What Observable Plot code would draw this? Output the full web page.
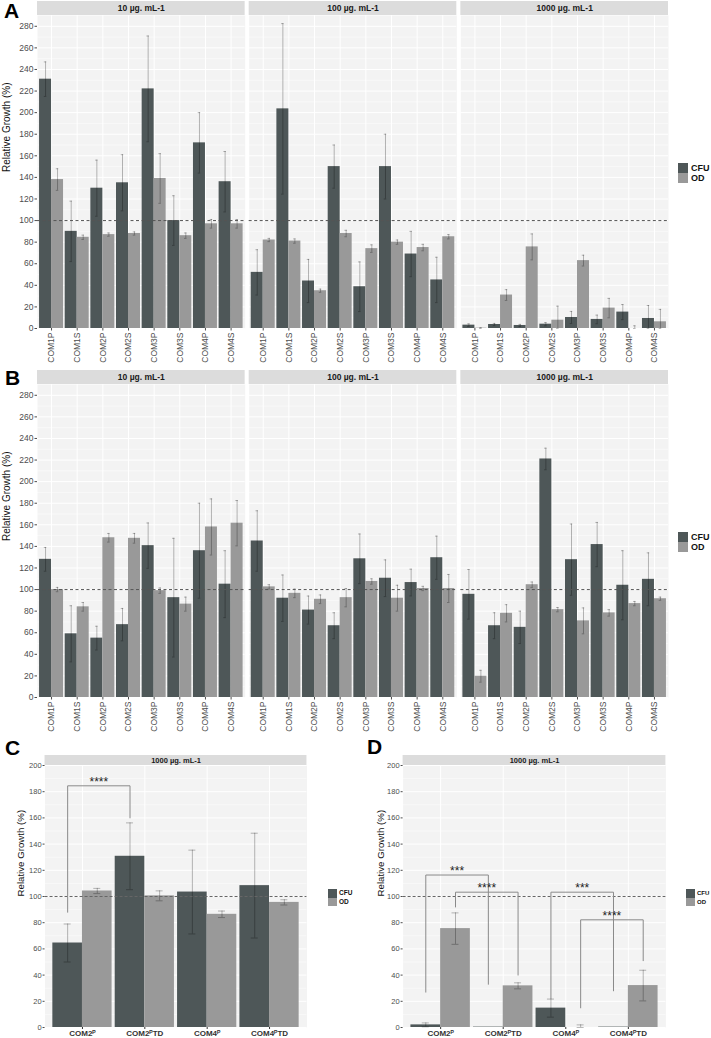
<!DOCTYPE html>
<html>
<head>
<meta charset="utf-8">
<script src="https://cdn.jsdelivr.net/npm/d3@7"></script>
<script src="https://cdn.jsdelivr.net/npm/@observablehq/plot@0.6"></script>
<style>
  html, body { margin: 0; padding: 0; background: #fff; overflow: hidden; }
  #root { position: relative; width: 711px; height: 1038px; overflow: hidden; font-family: "Liberation Sans", Arial, Helvetica, sans-serif; }
  .letter { position: absolute; font-weight: bold; font-size: 21px; line-height: 21px; color: #000; }
  .lg-sw { position: absolute; }
  .lg-tx { position: absolute; font-weight: bold; color: #111; white-space: nowrap; }
</style>
</head>
<body>
<div id="root"></div>
<script>
// ---------------- DATA ----------------
const CATEGORIES = ["COM1P", "COM1S", "COM2P", "COM2S", "COM3P", "COM3S", "COM4P", "COM4S"];
const CONCENTRATIONS = ["10 µg. mL-1", "100 µg. mL-1", "1000 µg. mL-1"];
const SERIES = ["CFU", "OD"];
const Y_TICKS_AB = d3.range(0, 281, 20);

// Panel A (rows: 10, 100, 1000 µg/mL)
const A_CFU = [
  [231, 90, 130, 135, 222, 100, 172, 136],
  [52, 203.5, 44, 150, 38.7, 150, 69, 45],
  [3.1, 3.7, 2.8, 4, 10.2, 8.4, 15.2, 9.3]
];
const A_CFU_SD = [
  [16, 28, 26, 26, 49, 23, 28, 28],
  [21, 79, 20, 20, 23, 30, 21, 21],
  [1.2, 1, 1, 1.5, 5.6, 4, 7, 12]
];
const A_OD = [
  [138, 84.5, 87, 88, 139, 86, 97, 97],
  [82, 81, 35, 88, 74, 80, 75, 85],
  [0.3, 31, 75.6, 7.7, 62.9, 18.9, 0, 6.2]
];
const A_OD_SD = [
  [10, 2, 1.5, 1.5, 23, 2.5, 4, 4],
  [1.5, 2, 1.5, 3, 3.5, 2, 3, 2],
  [0.5, 5, 12, 13, 5, 9, 2.5, 11.5]
];

// Panel B
const B_CFU = [
  [128, 59, 55, 67.5, 140.7, 92.5, 136, 105],
  [145, 92, 81, 66.5, 128.5, 110.5, 106.5, 129.5],
  [95.6, 66.5, 65, 221, 127.7, 141.7, 104, 109.5]
];
const B_CFU_SD = [
  [11, 26, 11, 15, 21, 55, 44, 31],
  [28, 21.5, 13, 12, 23, 17, 12.4, 20],
  [23, 12, 15, 10, 33, 20.5, 32, 24.5]
];
const B_OD = [
  [100, 84, 148, 147.5, 99, 86.5, 158, 161.5],
  [102.5, 96.5, 91, 92.5, 107.5, 92, 101, 101],
  [19.7, 78, 104.5, 81.4, 71, 78.4, 87, 91.5]
];
const B_OD_SD = [
  [2, 4, 4, 4.5, 2.5, 6.5, 26, 21],
  [2, 4, 4, 8.5, 2.5, 12, 2, 13],
  [5.5, 8, 2.5, 2, 12, 3, 2, 1.5]
];

// Panels C and D (1000 µg/mL)
const TD_CONCENTRATION = ["1000 µg. mL-1"];
const TD_CATEGORIES = ["COM2P", "COM2P TD", "COM4P", "COM4P TD"];
const TD_LABELS = ["COM2ᴾ", "COM2ᴾTD", "COM4ᴾ", "COM4ᴾTD"];
const Y_TICKS_CD = d3.range(0, 201, 20);

const C_CFU = [64.5, 130.7, 103.4, 108.3];
const C_CFU_SD = [14.5, 25.5, 32, 40];
const C_OD = [104.2, 100.5, 86.4, 95.5];
const C_OD_SD = [2, 3.8, 2.5, 2];

const D_CFU = [2, 0.3, 14.8, 0.3];
const D_CFU_SD = [1.5, 0, 6.9, 0];
const D_OD = [75.5, 31.8, 0, 32];
const D_OD_SD = [12, 2.3, 2, 11.7];

// significance brackets: bar pair, bracket height, leg ends
const C_BRACKETS = [
  {series: "CFU", from: "COM2P", to: "COM2P TD", top: 184.5, leftEnd: 88, rightEnd: 160, label: "****"}
];
const D_BRACKETS = [
  {series: "CFU", from: "COM2P", to: "COM2P TD", top: 116.4, leftEnd: 27, rightEnd: 33, label: "***"},
  {series: "OD", from: "COM2P", to: "COM2P TD", top: 103.3, leftEnd: 92, rightEnd: 40, label: "****"},
  {series: "CFU", from: "COM4P", to: "COM4P TD", top: 103.3, leftEnd: 22, rightEnd: 28, label: "***"},
  {series: "OD", from: "COM4P", to: "COM4P TD", top: 82.2, leftEnd: 15, rightEnd: 51, label: "****"}
];

// ---------------- STYLE ----------------
const FONT = "'Liberation Sans', Arial, Helvetica, sans-serif";
const COLORS = {CFU: "#4E5758", OD: "#999999"};
const PANEL_BG = "#F3F3F3";
const STRIP_BG = "#DCDCDC";
const TICK_COL = "#4D4D4D";

function tidyFacets(cfu, cfuSd, od, odSd) {
  const rows = [];
  CONCENTRATIONS.forEach((conc, i) => CATEGORIES.forEach((cat, j) => {
    rows.push({conc, cat, series: "CFU", value: cfu[i][j], sd: cfuSd[i][j]});
    rows.push({conc, cat, series: "OD", value: od[i][j], sd: odSd[i][j]});
  }));
  return rows;
}
function tidyTD(cfu, cfuSd, od, odSd) {
  return TD_CATEGORIES.flatMap((cat, j) => [
    {conc: TD_CONCENTRATION[0], cat, series: "CFU", value: cfu[j], sd: cfuSd[j]},
    {conc: TD_CONCENTRATION[0], cat, series: "OD", value: od[j], sd: odSd[j]}
  ]);
}

function buildPanel(o) {
  const plotH = o.height - o.mt - o.mb;
  const u = o.yMax / plotH; // data units per pixel
  const cfu = o.rows.filter(d => d.series === "CFU");
  const od = o.rows.filter(d => d.series === "OD");
  const lo = d => Math.max(0, d.value - d.sd);
  const hi = d => d.value + d.sd;

  const make = (bw, step) => {
    const q = bw / 4;
    const err = (data, dx) => {
      const withSd = data.filter(d => d.sd > 0);
      const insetLeft = bw / 2 + dx - o.capW / 2;
      const insetRight = bw / 2 - dx - o.capW / 2;
      const common = {fx: "conc", x: "cat", stroke: "#000", strokeOpacity: 0.35, strokeWidth: 0.8};
      return [
        Plot.ruleX(withSd, {...common, y1: lo, y2: hi, dx}),
        Plot.tickY(withSd, {...common, y: lo, insetLeft, insetRight}),
        Plot.tickY(withSd, {...common, y: hi, insetLeft, insetRight})
      ];
    };
    const marks = [
      Plot.frame({fill: PANEL_BG, stroke: "none"}),
      Plot.ruleY(d3.range(10, o.yMax, 20), {stroke: "#fff", strokeWidth: 0.5}),
      Plot.ruleY(d3.range(0, o.yMax + 0.01, 20), {stroke: "#fff", strokeWidth: 1}),
      Plot.ruleX(o.cats, {stroke: "#fff", strokeWidth: 1}),
      Plot.barY(cfu, {fx: "conc", x: "cat", y: "value", fill: COLORS.CFU, insetRight: bw / 2}),
      Plot.barY(od, {fx: "conc", x: "cat", y: "value", fill: COLORS.OD, insetLeft: bw / 2}),
      ...err(cfu, -q),
      ...err(od, q),
      Plot.ruleY([100], {stroke: o.dashCol, strokeWidth: 1, strokeDasharray: o.dash}),
      Plot.rect(o.facets, {fx: d => d, y1: o.yMax, y2: o.yMax + o.stripH * u, fill: STRIP_BG}),
      Plot.text(o.facets, {fx: d => d, text: d => d, y: o.yMax + o.stripH * u / 2, fontWeight: "bold", fontSize: o.stripFont, fill: "#1A1A1A"}),
      Plot.text([o.facets[0]], {fx: d => d, text: () => "Relative Growth (%)", frameAnchor: "left", dx: o.titleDx, rotate: -90, fontSize: o.titleSize, fill: "#111"}),
      Plot.axisY({ticks: o.yTicks, tickSize: o.tickSize, tickPadding: 1.5, fontSize: o.tickFont, color: TICK_COL, label: null}),
      Plot.axisX(o.xAxis)
    ];
    if (o.brackets) {
      for (const s of SERIES) {
        const bs = o.brackets.filter(b => b.series === s);
        if (!bs.length) continue;
        const dx = s === "CFU" ? -q : q;
        const pts = bs.flatMap((b, i) => [
          {id: i, x: b.from, y: b.leftEnd}, {id: i, x: b.from, y: b.top},
          {id: i, x: b.to, y: b.top}, {id: i, x: b.to, y: b.rightEnd}
        ]);
        marks.push(Plot.line(pts, {x: "x", y: "y", z: "id", dx, stroke: "#8A8A8A", strokeWidth: 1}));
        marks.push(Plot.text(bs, {x: "from", y: "top", text: "label", dx: dx + step / 2, dy: -4, fontSize: 12, fill: "#222"}));
      }
    }
    return Plot.plot({
      width: o.width, height: o.height,
      marginLeft: o.ml, marginRight: o.mr, marginTop: o.mt, marginBottom: o.mb,
      style: {fontFamily: FONT, background: "transparent", overflow: "visible", color: TICK_COL},
      fx: {domain: o.facets, paddingInner: o.fxPad, paddingOuter: 0, axis: null, label: null, round: false},
      x: {domain: o.cats, paddingInner: o.xPadIn, paddingOuter: o.xPadOut, round: false, label: null},
      y: {domain: [0, o.yMax], label: null},
      marks
    });
  };
  const probe = make(10, 12);
  const sx = probe.scale("x");
  const step = sx.step ?? (sx.apply(o.cats[1]) - sx.apply(o.cats[0]));
  return make(sx.bandwidth, step);
}

const root = document.getElementById("root");
function place(node, left, top) {
  node.style.position = "absolute";
  node.style.left = left + "px";
  node.style.top = top + "px";
  root.appendChild(node);
}
function legend(left, top, sw, fs, gap) {
  SERIES.forEach((s, i) => {
    const b = document.createElement("div");
    b.className = "lg-sw";
    Object.assign(b.style, {left: left + "px", top: (top + i * sw) + "px", width: sw + "px", height: sw + "px", background: COLORS[s]});
    root.appendChild(b);
    const t = document.createElement("div");
    t.className = "lg-tx";
    t.textContent = s;
    Object.assign(t.style, {left: (left + sw + gap) + "px", top: (top + i * sw) + "px", height: sw + "px", lineHeight: sw + "px", fontSize: fs + "px"});
    root.appendChild(t);
  });
}
function letter(ch, left, top) {
  const d = document.createElement("div");
  d.className = "letter";
  d.textContent = ch;
  d.style.left = left + "px";
  d.style.top = top + "px";
  root.appendChild(d);
}

const abCommon = {
  cats: CATEGORIES, facets: CONCENTRATIONS, yMax: 290, yTicks: Y_TICKS_AB,
  width: 670, height: 363, ml: 37, mr: 2, mt: 15, mb: 35,
  fxPad: 0.019, xPadIn: 0.065, xPadOut: 0.08,
  stripH: 14, stripFont: 8.5, titleDx: -31, titleSize: 10, tickFont: 8.5, tickSize: 2.5,
  capW: 2.5, dash: "3,2.5", dashCol: "#555",
  xAxis: {tickRotate: -90, tickSize: 2.5, tickPadding: 1.5, fontSize: 8.5, color: TICK_COL, label: null}
};
const cdCommon = {
  cats: TD_CATEGORIES, facets: TD_CONCENTRATION, yMax: 200, yTicks: Y_TICKS_CD,
  height: 298, mt: 25, mb: 11, mr: 4,
  fxPad: 0.1, xPadIn: 0.05, xPadOut: 0.125,
  stripH: 10, stripFont: 7.5, titleSize: 9.7, tickFont: 7.5, tickSize: 2,
  capW: 7, dash: "3,2", dashCol: "#666",
  xAxis: {tickSize: 2, tickPadding: 0.5, fontSize: 8, fontWeight: "bold", color: "#333", label: null,
          tickFormat: d => TD_LABELS[TD_CATEGORIES.indexOf(d)]}
};

const chartA = buildPanel({...abCommon, rows: tidyFacets(A_CFU, A_CFU_SD, A_OD, A_OD_SD)});
const chartB = buildPanel({...abCommon, rows: tidyFacets(B_CFU, B_CFU_SD, B_OD, B_OD_SD)});
const chartC = buildPanel({...cdCommon, rows: tidyTD(C_CFU, C_CFU_SD, C_OD, C_OD_SD), width: 325, ml: 30, titleDx: -24, brackets: C_BRACKETS});
const chartD = buildPanel({...cdCommon, rows: tidyTD(D_CFU, D_CFU_SD, D_OD, D_OD_SD), width: 329, ml: 33, titleDx: -22, brackets: D_BRACKETS});

place(chartA, 0, 0);
place(chartB, 0, 369);
place(chartC, 0, 740);
place(chartD, 355, 740);

legend(678, 163, 10, 9, 3);
legend(678, 532, 10, 9, 3);
legend(328, 889, 8.5, 6.5, 2.5);
legend(686, 889, 8.5, 6, 2.5);

letter("A", 4, 0);
letter("B", 5, 367);
letter("C", 5, 737);
letter("D", 367, 736);
</script>
</body>
</html>
